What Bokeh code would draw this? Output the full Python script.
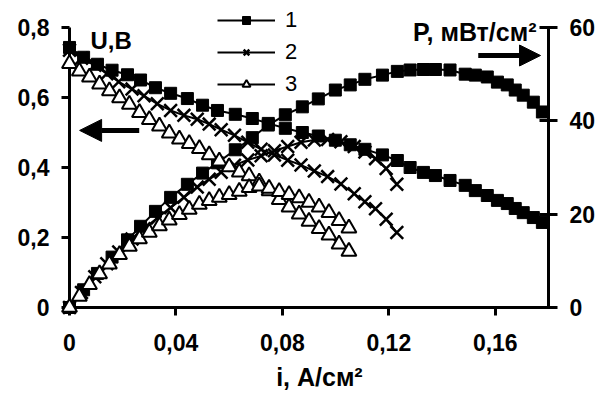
from bokeh.plotting import figure
from bokeh.models import (Range1d, LinearAxis, FixedTicker, CustomJSTickFormatter,
                          Legend, LegendItem, Arrow, NormalHead, Label)
from bokeh.embed import file_html
from bokeh.resources import INLINE

# ---- data ----
i1 = [0, 0.0053, 0.0105, 0.016, 0.0218, 0.0267, 0.0323, 0.038, 0.0443, 0.050, 0.0556,
      0.0623, 0.0687, 0.0747, 0.0811, 0.0875, 0.0935, 0.0999, 0.1055, 0.111, 0.1176,
      0.1232, 0.128, 0.133, 0.1375, 0.143, 0.1487, 0.1525, 0.157, 0.1608, 0.1645,
      0.1675, 0.1705, 0.1743, 0.1777]
u1 = [0.743, 0.715, 0.695, 0.678, 0.665, 0.650, 0.628, 0.612, 0.597, 0.578, 0.563,
      0.552, 0.540, 0.526, 0.512, 0.500, 0.490, 0.478, 0.465, 0.452, 0.436,
      0.420, 0.400, 0.386, 0.377, 0.363, 0.349, 0.334, 0.320, 0.306, 0.297,
      0.283, 0.271, 0.257, 0.243]
p1 = [0, 3.8, 7.3, 10.8, 14.5, 17.4, 20.6, 23.6, 26.4, 28.8, 31.0,
      33.8, 36.4, 39.1, 41.3, 43.0, 44.7, 46.6, 47.7, 48.9, 49.8,
      50.6, 50.9, 51.0, 51.0, 50.9, 50.0, 49.8, 49.4, 48.3, 47.7,
      46.6, 45.5, 44.0, 41.9]

i2 = [0, 0.0045, 0.0095, 0.014, 0.0185, 0.0235, 0.028, 0.033, 0.038, 0.043, 0.048,
      0.0525, 0.057, 0.062, 0.067, 0.072, 0.077, 0.082, 0.087, 0.092, 0.097, 0.102,
      0.107, 0.111, 0.115, 0.119, 0.123]
u2 = [0.735, 0.712, 0.692, 0.668, 0.645, 0.624, 0.605, 0.582, 0.563, 0.549, 0.538,
      0.524, 0.508, 0.492, 0.472, 0.452, 0.436, 0.421, 0.407, 0.390, 0.374, 0.353,
      0.325, 0.302, 0.282, 0.252, 0.214]
p2 = [0, 3.2, 6.6, 9.4, 11.9, 14.7, 16.9, 19.2, 21.4, 23.6, 25.8,
      27.5, 29.0, 30.5, 31.6, 32.5, 33.6, 34.5, 35.4, 35.9, 36.0, 35.5,
      34.5, 33.3, 31.9, 29.8, 26.4]

i3 = [0, 0.0037, 0.0075, 0.0113, 0.015, 0.0188, 0.0225, 0.0263, 0.03, 0.0338, 0.0375,
      0.0413, 0.045, 0.0488, 0.0525, 0.0563, 0.06, 0.0638, 0.0675, 0.0713, 0.075,
      0.0788, 0.0825, 0.0863, 0.09, 0.0938, 0.0975, 0.1013, 0.105]
u3 = [0.697, 0.675, 0.658, 0.638, 0.619, 0.599, 0.580, 0.557, 0.537, 0.518, 0.498,
      0.481, 0.468, 0.454, 0.436, 0.418, 0.402, 0.387, 0.376, 0.358, 0.333,
      0.308, 0.287, 0.267, 0.246, 0.225, 0.207, 0.181, 0.160]
p3 = [0, 2.4, 4.9, 7.2, 9.3, 11.3, 13.1, 14.7, 16.1, 17.5, 18.7,
      19.9, 21.0, 22.1, 22.9, 23.6, 24.2, 24.9, 25.7, 26.0, 25.5,
      24.8, 24.2, 23.5, 22.5, 21.5, 20.3, 18.6, 17.0]

series_labels = ["1", "2", "3"]
x_ticks = [0, 0.04, 0.08, 0.12, 0.16]
u_ticks = [0, 0.2, 0.4, 0.6, 0.8]
p_ticks = [0, 20, 40, 60]

FONT = "Liberation Sans"
U_MAX, P_MAX = 0.8, 60
U_TOP = 0.8629                      # frame slightly taller than the axes
P_TOP = U_TOP / U_MAX * P_MAX

p = figure(width=604, height=396, x_range=Range1d(0, 0.18), y_range=Range1d(0, U_TOP),
           output_backend="svg", toolbar_location=None,
           min_border_left=69, min_border_right=56, min_border_top=5, min_border_bottom=89)
p.extra_y_ranges = {"P": Range1d(0, P_TOP)}
p.outline_line_color = None
p.xgrid.visible = False
p.ygrid.visible = False
p.background_fill_color = None
p.border_fill_color = "white"

fmt = CustomJSTickFormatter(code="""
if (Math.abs(tick) < 1e-9) return '0';
return (Math.round(tick*100)/100).toString().replace('.', ',');
""")

def style_axis(ax, tin, tout):
    ax.axis_line_width = 3
    ax.axis_line_color = "black"
    ax.major_tick_line_width = 3
    ax.major_tick_in = tin
    ax.major_tick_out = tout
    ax.minor_tick_line_color = None
    ax.major_label_text_font = FONT
    ax.major_label_text_font_style = "bold"
    ax.major_label_text_font_size = "23px"
    ax.major_label_text_color = "black"

xa = p.xaxis[0]
xa.ticker = FixedTicker(ticks=x_ticks)
xa.formatter = fmt
style_axis(xa, 0, 8)
xa.major_label_standoff = 18
xa.axis_label = "\u00a0\u00a0\u00a0i, А/см²"
xa.axis_label_text_font = FONT
xa.axis_label_text_font_style = "bold"
xa.axis_label_text_font_size = "25px"
xa.axis_label_text_color = "black"
xa.axis_label_standoff = 9

ya = p.yaxis[0]
ya.ticker = FixedTicker(ticks=u_ticks)
ya.formatter = fmt
ya.bounds = (0, U_MAX)
style_axis(ya, 0, 8)
ya.major_label_standoff = 12

ra = LinearAxis(y_range_name="P", ticker=FixedTicker(ticks=p_ticks), bounds=(0, P_MAX))
style_axis(ra, 9, 9)
ra.major_label_standoff = 12
p.add_layout(ra, "right")

# ---- curves ----
items = []
specs = [
    (i1, u1, p1, dict(marker="square", size=12, fill_color="black", line_color="black", line_width=1)),
    (i2, u2, p2, dict(marker="x", size=18, line_color="black", line_width=2.5)),
    (i3, u3, p3, dict(marker="triangle", size=15, fill_color="white", line_color="black", line_width=2)),
]
for (ii, uu, pp, mk), lab in zip(specs, series_labels):
    lu = p.line(ii, uu, line_color="black", line_width=2)
    su = p.scatter(ii, uu, **mk)
    lp = p.line(ii, pp, line_color="black", line_width=2, y_range_name="P")
    sp = p.scatter(ii, pp, y_range_name="P", **mk)
    for r in (lu, su, lp, sp):
        r.level = "overlay"
    items.append(LegendItem(label=lab, renderers=[lu, su]))

legend = Legend(items=items, location=(148, 210), orientation="vertical",
                glyph_width=58, glyph_height=20, label_standoff=10, spacing=6,
                padding=0, margin=0, border_line_color=None, background_fill_alpha=0,
                label_text_font=FONT, label_text_font_size="22px", label_text_color="black")
p.add_layout(legend, "center")

# ---- arrows ----
p.add_layout(Arrow(x_start=0.0262, y_start=0.506, x_end=0.0038, y_end=0.506,
                   line_width=5, line_color="black",
                   end=NormalHead(size=22, fill_color="black", line_color="black")))
p.add_layout(Arrow(x_start=0.1536, y_start=0.72, x_end=0.177, y_end=0.72,
                   line_width=5, line_color="black",
                   end=NormalHead(size=21, fill_color="black", line_color="black")))

# ---- axis titles inside the frame ----
def lbl(x, y, text, align, size):
    return Label(x=x, y=y, text=text, text_align=align, text_baseline="alphabetic",
                 text_font=FONT, text_font_style="bold", text_font_size=size,
                 text_color="black")

p.add_layout(lbl(0.0079, 0.763, "U,В", "left", "24px"))
p.add_layout(lbl(0.1755, 0.786, "P, мВт/см²", "right", "25px"))

open("out.html", "w").write(file_html(p, INLINE))
